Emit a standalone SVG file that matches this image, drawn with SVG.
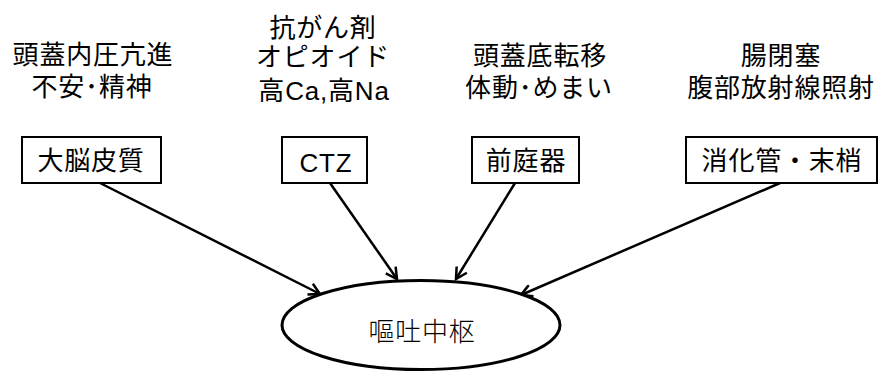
<svg xmlns="http://www.w3.org/2000/svg" width="880" height="371" viewBox="0 0 880 371">
<style>
text{font-family:"Liberation Sans","Noto Sans CJK JP",sans-serif;font-size:26px;fill:#000;text-anchor:middle;letter-spacing:0.8px}
.box{fill:#fff;stroke:#000;stroke-width:2}
.conn{stroke:#000;stroke-width:2.5;fill:none;marker-end:url(#arr)}
</style>
<defs>
<marker id="arr" markerUnits="userSpaceOnUse" viewBox="0 0 14 14" refX="12" refY="7" markerWidth="14" markerHeight="14" orient="auto">
<path d="M1,1 L12,7 L1,13" fill="none" stroke="#000" stroke-width="2.5"/>
</marker>
</defs>
<rect width="880" height="371" fill="#fff"/>
<g id="connectors">
<line class="conn" x1="100" y1="183" x2="320" y2="294"/>
<line class="conn" x1="330" y1="183" x2="397" y2="279"/>
<line class="conn" x1="515" y1="183" x2="456" y2="279"/>
<line class="conn" x1="780" y1="183" x2="521" y2="295"/>
</g>
<g id="label1">
<text x="93" y="64">頭蓋内圧亢進</text>
<text x="92" y="96">不安･精神</text>
</g>
<g id="label2">
<text x="323" y="37">抗がん剤</text>
<text x="323" y="66">オピオイド</text>
<text x="324" y="100" letter-spacing="0" font-size="25">高Ca,高Na</text>
</g>
<g id="label3">
<text x="540" y="65">頭蓋底転移</text>
<text x="539" y="97">体動･めまい</text>
</g>
<g id="label4">
<text x="781" y="65">腸閉塞</text>
<text x="781" y="97">腹部放射線照射</text>
</g>
<g id="cortex">
<rect class="box" x="22" y="137" width="139" height="46"/>
<text x="91" y="170">大脳皮質</text>
</g>
<g id="ctz">
<rect class="box" x="282" y="137" width="85" height="46"/>
<text x="326" y="172" font-size="28" letter-spacing="2.5">CTZ</text>
</g>
<g id="vestibule">
<rect class="box" x="472" y="137" width="107" height="46"/>
<text x="526" y="170">前庭器</text>
</g>
<g id="gut">
<rect class="box" x="686" y="137" width="191" height="46"/>
<text x="782" y="170">消化管・末梢</text>
</g>
<g id="center">
<ellipse cx="421" cy="325" rx="139" ry="44.5" fill="#fff" stroke="#000" stroke-width="3"/>
<text x="422" y="341" style="font-weight:300">嘔吐中枢</text>
</g>
</svg>
